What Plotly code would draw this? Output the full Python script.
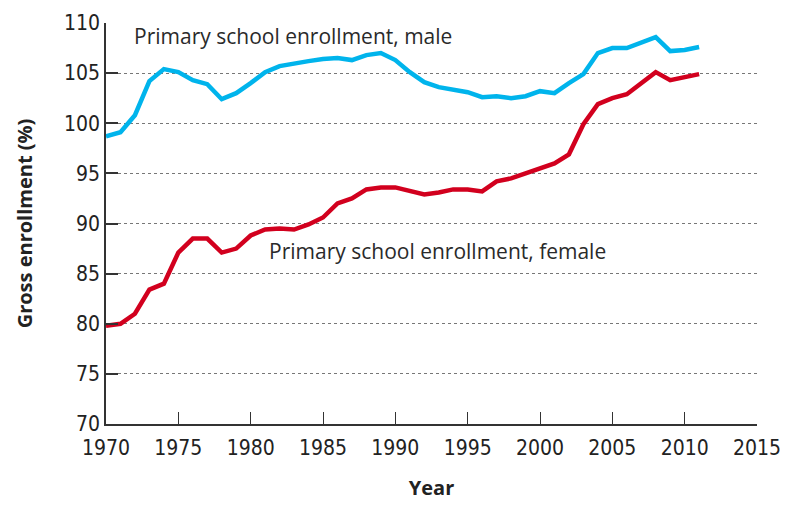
import plotly.graph_objects as go

years = list(range(1970, 2012))
male = [98.7, 99.1, 100.8, 104.2, 105.4, 105.1, 104.3, 103.9, 102.4, 103.0,
        104.0, 105.1, 105.7, 106.0, 106.2, 106.4, 106.5, 106.3, 106.8, 107.0,
        106.3, 105.1, 104.1, 103.6, 103.4, 103.1, 102.6, 102.7, 102.5, 102.7,
        103.2, 103.0, 104.0, 104.9, 107.0, 107.5, 107.5, 108.1, 108.6, 107.2,
        107.3, 107.6]
female = [79.8, 80.0, 81.0, 83.4, 84.0, 87.1, 88.5, 88.5, 87.1, 87.5,
          88.8, 89.4, 89.5, 89.4, 89.9, 90.6, 92.0, 92.5, 93.4, 93.6,
          93.6, 93.3, 92.9, 93.1, 93.4, 93.4, 93.2, 94.2, 94.5, 95.0,
          95.5, 96.0, 96.9, 99.9, 101.9, 102.5, 102.9, 104.0, 105.1, 104.3,
          104.6, 104.9]
x_ticks = [1970, 1975, 1980, 1985, 1990, 1995, 2000, 2005, 2010, 2015]
y_ticks = [70, 75, 80, 85, 90, 95, 100, 105, 110]
labels = ["Primary school enrollment, male", "Primary school enrollment, female"]
label_pos = [(1971.8, 108.7), (1981.1, 87.3)]

tick_font = dict(family="Liberation Sans Narrow, DejaVu Sans Condensed, Open Sans", size=21, color="#222")
title_font = dict(family="Open Sans, DejaVu Sans", size=20, color="#222")

fig = go.Figure()
fig.add_trace(go.Scatter(x=years, y=male, mode="lines",
                         line=dict(color="#00B4EC", width=4.5), hoverinfo="skip"))
fig.add_trace(go.Scatter(x=years, y=female, mode="lines",
                         line=dict(color="#D2001E", width=4.5), hoverinfo="skip"))

for txt, (lx, ly) in zip(labels, label_pos):
    fig.add_annotation(x=lx, y=ly, text=txt, showarrow=False, xanchor="left", yanchor="middle",
                       font=dict(family="Open Sans, Noto Sans", size=21, color="#2a2a2a"))

fig.update_layout(
    width=790, height=514,
    margin=dict(l=98, r=41, t=15, b=98),
    paper_bgcolor="white", plot_bgcolor="white",
    showlegend=False,
)
fig.update_xaxes(range=[1970, 2015], tickvals=x_ticks, ticktext=[str(v) for v in x_ticks],
                 ticks="inside", ticklen=12, tickcolor="#333", tickwidth=1,
                 showline=True, linecolor="#333", linewidth=1.5, automargin=False,
                 ticklabelstandoff=4,
                 showgrid=False, zeroline=False, tickfont=tick_font,
                 title=dict(text="<b>Year</b>", font=title_font, standoff=22))
fig.update_yaxes(range=[70, 110], tickvals=y_ticks, ticktext=[str(v) for v in y_ticks],
                 ticks="inside", ticklen=12, tickcolor="#333", tickwidth=1.5,
                 showline=True, linecolor="#333", linewidth=1.5, automargin=False,
                 showgrid=True, gridcolor="#777", gridwidth=1, griddash="dot",
                 zeroline=False, tickfont=tick_font,
                 title=dict(text="<b>Gross enrollment (%)</b>", font=title_font, standoff=26))

fig.write_html("out.html")
